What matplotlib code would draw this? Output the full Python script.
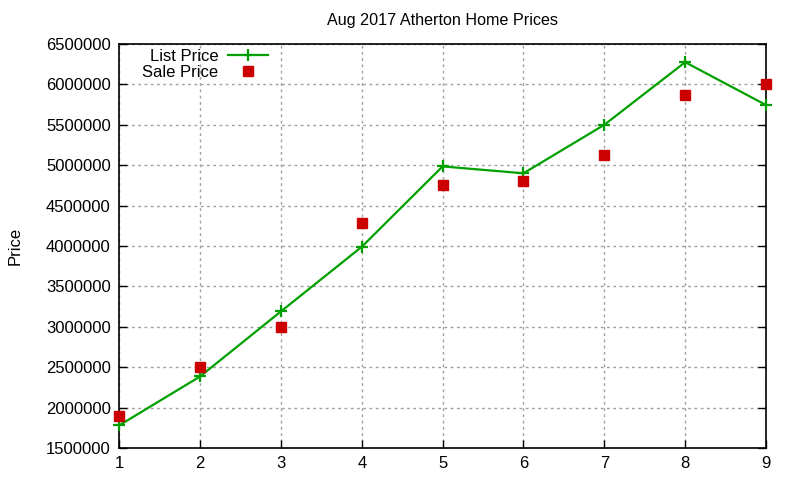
import matplotlib
matplotlib.use("Agg")
import matplotlib.pyplot as plt
from matplotlib.ticker import FixedLocator

plt.rcParams['font.family'] = ['Liberation Sans', 'DejaVu Sans']

months = [1, 2, 3, 4, 5, 6, 7, 8, 9]
list_price = [1780000, 2385000, 3190000, 3990000, 4985000, 4900000, 5500000, 6275000, 5745000]
sale_price = [1895000, 2500000, 2995000, 4280000, 4750000, 4800000, 5130000, 5870000, 6000000]
yticks = list(range(1500000, 6500001, 500000))

fig = plt.figure(figsize=(8, 4.8), dpi=100)
ax = fig.add_axes([0.149, 0.0667, 0.8085, 0.8416])

ax.plot(months, list_price, color='#00a000', lw=1.6, marker='+', ms=9, mew=1.6,
        label='List Price', clip_on=False, zorder=3)
ax.plot(months, sale_price, ls='none', color='#cc0000', marker='s', ms=6.5,
        label='Sale Price', clip_on=False, zorder=4)

ax.set_xlim(1, 9)
ax.set_ylim(1500000, 6500000)
ax.xaxis.set_major_locator(FixedLocator(months))
ax.yaxis.set_major_locator(FixedLocator(yticks))
ax.set_yticklabels([str(v) for v in yticks])
ax.tick_params(direction='in', length=6, width=1, labelsize=12, top=False, right=True,
               pad=6)
ax.grid(True, color='#a0a0a0', ls=(0, (2, 2.5)), lw=1)
for s in ax.spines.values():
    s.set_linewidth(1.2)

ax.set_title('Aug 2017 Atherton Home Prices', fontsize=11.6, pad=14)
ax.set_ylabel('Price', fontsize=12, labelpad=17)

ax.legend(loc='upper left', bbox_to_anchor=(0.02, 1.013), frameon=False, markerfirst=False,
          fontsize=12, handlelength=2.4, handletextpad=0.6, labelspacing=0.08,
          borderaxespad=0.2, numpoints=1)

fig.savefig('out.png', dpi=100)
